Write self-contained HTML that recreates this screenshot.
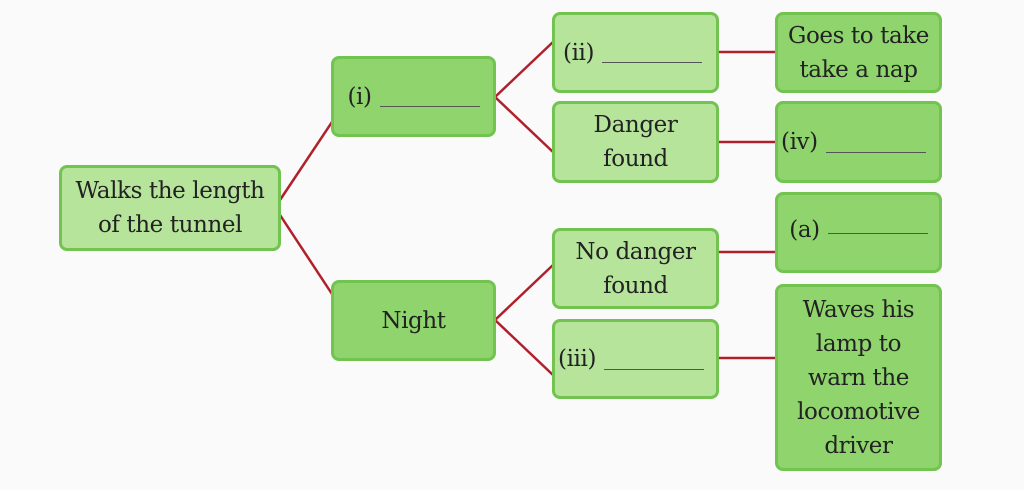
<!DOCTYPE html>
<html><head><meta charset="utf-8"><style>
body{margin:0;width:1024px;height:490px;background:#fafafa;position:relative;overflow:hidden;font-family:"DejaVu Serif",serif;color:#222}
.b{position:absolute;box-sizing:border-box;border:3px solid #72c350;border-radius:8px;display:flex;align-items:center;justify-content:center;text-align:center;font-size:23px;line-height:34px;letter-spacing:-0.4px}
.l{background:#b6e49b}
.d{background:#8fd46c}
.bl{display:inline-block;width:100px;border-bottom:1.5px solid #555;height:20px;margin-left:8px;vertical-align:baseline}
svg{position:absolute;left:0;top:0}
</style></head><body>
<svg width="1024" height="490"><g stroke="#b0202a" stroke-width="2.5" fill="none">
<line x1="280" y1="200" x2="332" y2="122"/>
<line x1="280" y1="215" x2="332" y2="294"/>
<line x1="495" y1="97" x2="553" y2="42"/>
<line x1="495" y1="97" x2="553" y2="152"/>
<line x1="495" y1="320" x2="553" y2="265"/>
<line x1="495" y1="320" x2="553" y2="375"/>
<line x1="718" y1="52" x2="776" y2="52"/>
<line x1="718" y1="142" x2="776" y2="142"/>
<line x1="718" y1="252" x2="776" y2="252"/>
<line x1="718" y1="358" x2="776" y2="358"/>
</g></svg>
<div class="b l" style="left:59px;top:165px;width:222px;height:86px">Walks the length<br>of the tunnel</div>
<div class="b d" style="left:331px;top:56px;width:165px;height:81px">(i)<span class="bl"></span></div>
<div class="b d" style="left:331px;top:280px;width:165px;height:81px">Night</div>
<div class="b l" style="left:552px;top:12px;width:167px;height:81px;justify-content:flex-start;padding-left:8px">(ii)<span class="bl"></span></div>
<div class="b l" style="left:552px;top:101px;width:167px;height:82px">Danger<br>found</div>
<div class="b l" style="left:552px;top:228px;width:167px;height:81px">No danger<br>found</div>
<div class="b l" style="left:552px;top:319px;width:167px;height:80px;justify-content:flex-start;padding-left:3px">(iii)<span class="bl"></span></div>
<div class="b d" style="left:775px;top:12px;width:167px;height:81px">Goes to take<br>take a nap</div>
<div class="b d" style="left:775px;top:101px;width:167px;height:82px;justify-content:flex-start;padding-left:3px">(iv)<span class="bl"></span></div>
<div class="b d" style="left:775px;top:192px;width:167px;height:81px;align-items:flex-start;padding-top:18px">(a)<span class="bl"></span></div>
<div class="b d" style="left:775px;top:284px;width:167px;height:187px">Waves his<br>lamp to<br>warn the<br>locomotive<br>driver</div>
</body></html>
